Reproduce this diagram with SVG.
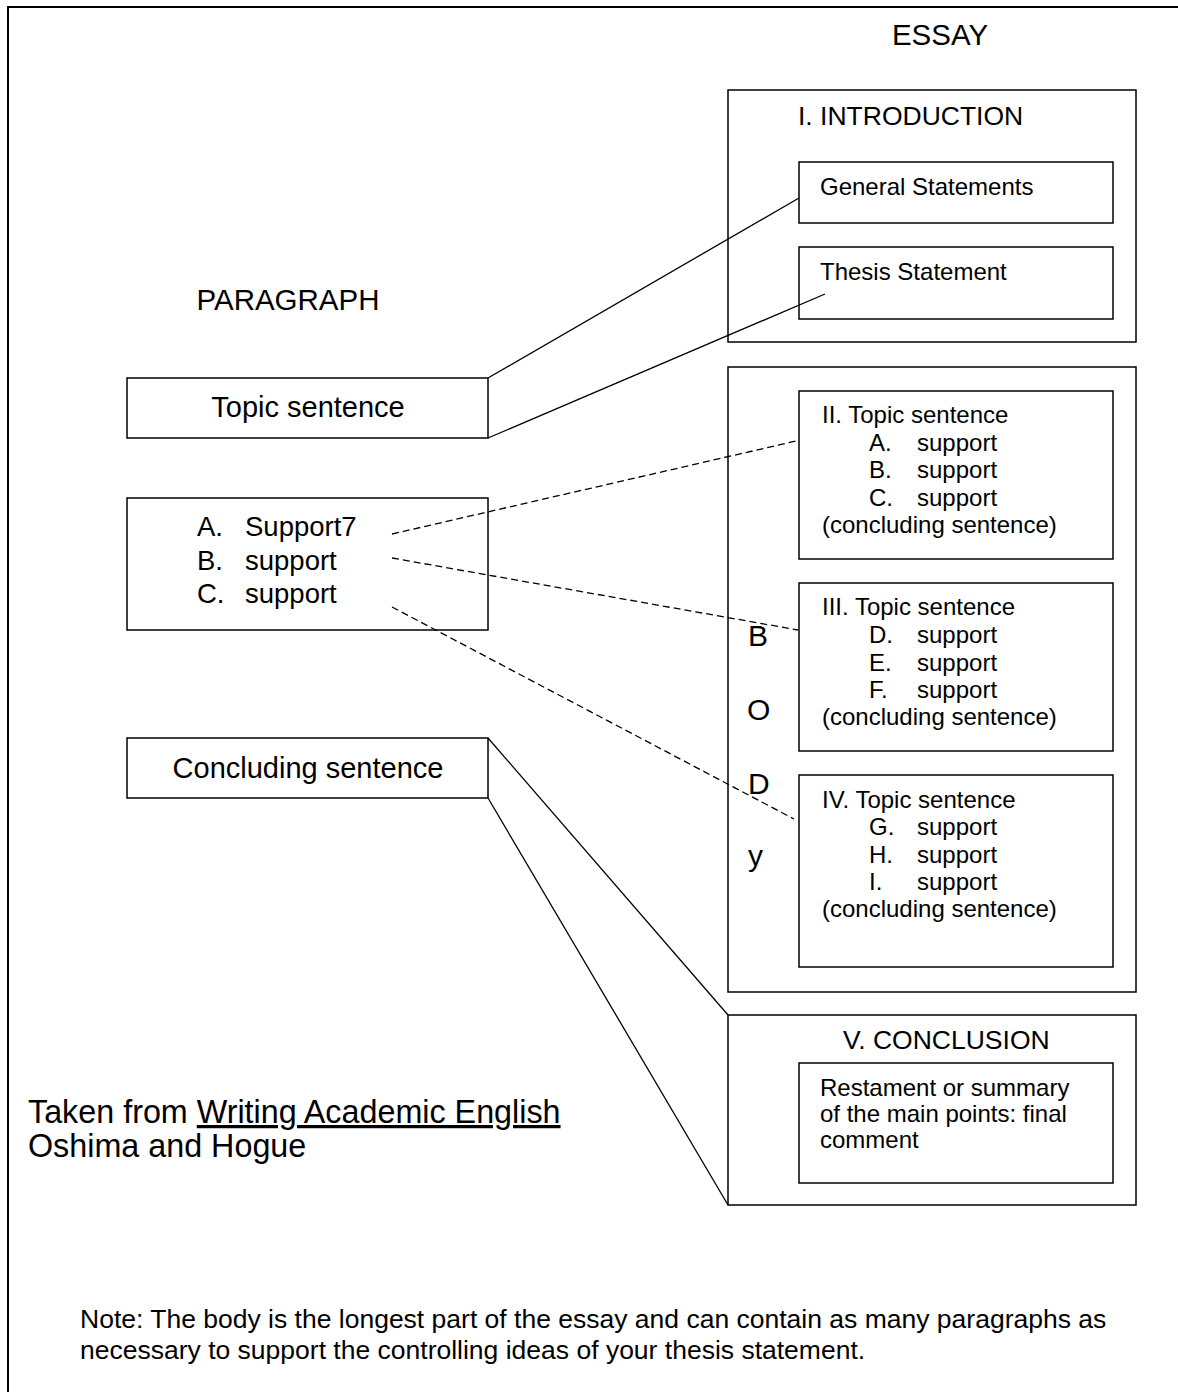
<svg xmlns="http://www.w3.org/2000/svg" width="1178" height="1392" viewBox="0 0 1178 1392">
<style>
text{font-family:"Liberation Sans",Arial,sans-serif;fill:#000}
.box{fill:#fff;stroke:#000;stroke-width:1.5}
.t{font-size:29.5px}
.h{font-size:26.5px}
.s{font-size:24px}
.l{font-size:29px}
.p{font-size:27.5px}
.b{font-size:30px}
.solid{stroke:#000;stroke-width:1.3;fill:none}
.dash{stroke:#000;stroke-width:1.3;fill:none;stroke-dasharray:7 4}
</style>
<rect width="1178" height="1392" fill="#fff"/>
<path d="M8 1392V7H1178" fill="none" stroke="#000" stroke-width="2"/>
<text class="t" x="940" y="45" text-anchor="middle">ESSAY</text>
<text class="t" x="288" y="310" text-anchor="middle">PARAGRAPH</text>

<g id="introduction">
<rect class="box" x="728" y="90" width="408" height="252"/>
<text class="h" x="798" y="125">I. INTRODUCTION</text>
</g>
<g id="general-statements">
<rect class="box" x="799" y="162" width="314" height="61"/>
<text class="s" x="820" y="195">General Statements</text>
</g>
<g id="thesis-statement">
<rect class="box" x="799" y="247" width="314" height="72"/>
<text class="s" x="820" y="280">Thesis Statement</text>
</g>

<g id="body">
<rect class="box" x="728" y="367" width="408" height="625"/>
<text class="b" x="748" y="646">B</text>
<text class="b" x="747" y="720">O</text>
<text class="b" x="748" y="794">D</text>
<text class="b" x="748" y="866">y</text>
</g>
<g id="paragraph-2">
<rect class="box" x="799" y="391" width="314" height="168"/>
<text class="s" x="822" y="423">II. Topic sentence</text>
<text class="s" x="869" y="451">A.</text><text class="s" x="917" y="451">support</text>
<text class="s" x="869" y="478">B.</text><text class="s" x="917" y="478">support</text>
<text class="s" x="869" y="506">C.</text><text class="s" x="917" y="506">support</text>
<text class="s" x="822" y="533">(concluding sentence)</text>
</g>
<g id="paragraph-3">
<rect class="box" x="799" y="583" width="314" height="168"/>
<text class="s" x="822" y="615">III. Topic sentence</text>
<text class="s" x="869" y="643">D.</text><text class="s" x="917" y="643">support</text>
<text class="s" x="869" y="671">E.</text><text class="s" x="917" y="671">support</text>
<text class="s" x="869" y="698">F.</text><text class="s" x="917" y="698">support</text>
<text class="s" x="822" y="725">(concluding sentence)</text>
</g>
<g id="paragraph-4">
<rect class="box" x="799" y="775" width="314" height="192"/>
<text class="s" x="822" y="808">IV. Topic sentence</text>
<text class="s" x="869" y="835">G.</text><text class="s" x="917" y="835">support</text>
<text class="s" x="869" y="863">H.</text><text class="s" x="917" y="863">support</text>
<text class="s" x="869" y="890">I.</text><text class="s" x="917" y="890">support</text>
<text class="s" x="822" y="917">(concluding sentence)</text>
</g>

<g id="conclusion">
<rect class="box" x="728" y="1015" width="408" height="190"/>
<text class="h" x="843" y="1049">V. CONCLUSION</text>
</g>
<g id="restatement">
<rect class="box" x="799" y="1063" width="314" height="120"/>
<text class="s" x="820" y="1096">Restament or summary</text>
<text class="s" x="820" y="1122">of the main points: final</text>
<text class="s" x="820" y="1148">comment</text>
</g>

<g id="topic-sentence">
<rect class="box" x="127" y="378" width="361" height="60"/>
<text class="l" x="308" y="417" text-anchor="middle">Topic sentence</text>
</g>
<g id="supports">
<rect class="box" x="127" y="498" width="361" height="132"/>
<text class="p" x="197" y="536">A.</text><text class="p" x="245" y="536">Support7</text>
<text class="p" x="197" y="570">B.</text><text class="p" x="245" y="570">support</text>
<text class="p" x="197" y="603">C.</text><text class="p" x="245" y="603">support</text>
</g>
<g id="concluding-sentence">
<rect class="box" x="127" y="738" width="361" height="60"/>
<text class="l" x="308" y="778" text-anchor="middle">Concluding sentence</text>
</g>

<g id="connectors">
<line class="solid" x1="488" y1="378" x2="799" y2="198"/>
<line class="solid" x1="488" y1="438" x2="825" y2="294"/>
<line class="solid" x1="488" y1="738" x2="728" y2="1015"/>
<line class="solid" x1="488" y1="798" x2="728" y2="1205"/>
<line class="dash" x1="392" y1="534" x2="796" y2="441"/>
<line class="dash" x1="392" y1="558" x2="798" y2="630"/>
<line class="dash" x1="392" y1="607" x2="794" y2="819"/>
</g>

<text style="font-size:32.3px" x="28" y="1123">Taken from <tspan text-decoration="underline">Writing Academic English</tspan></text>
<text style="font-size:32.3px" x="28" y="1157">Oshima and Hogue</text>

<text style="font-size:26.5px" x="80" y="1328">Note: The body is the longest part of the essay and can contain as many paragraphs as</text>
<text style="font-size:26.5px" x="80" y="1359">necessary to support the controlling ideas of your thesis statement.</text>
</svg>
